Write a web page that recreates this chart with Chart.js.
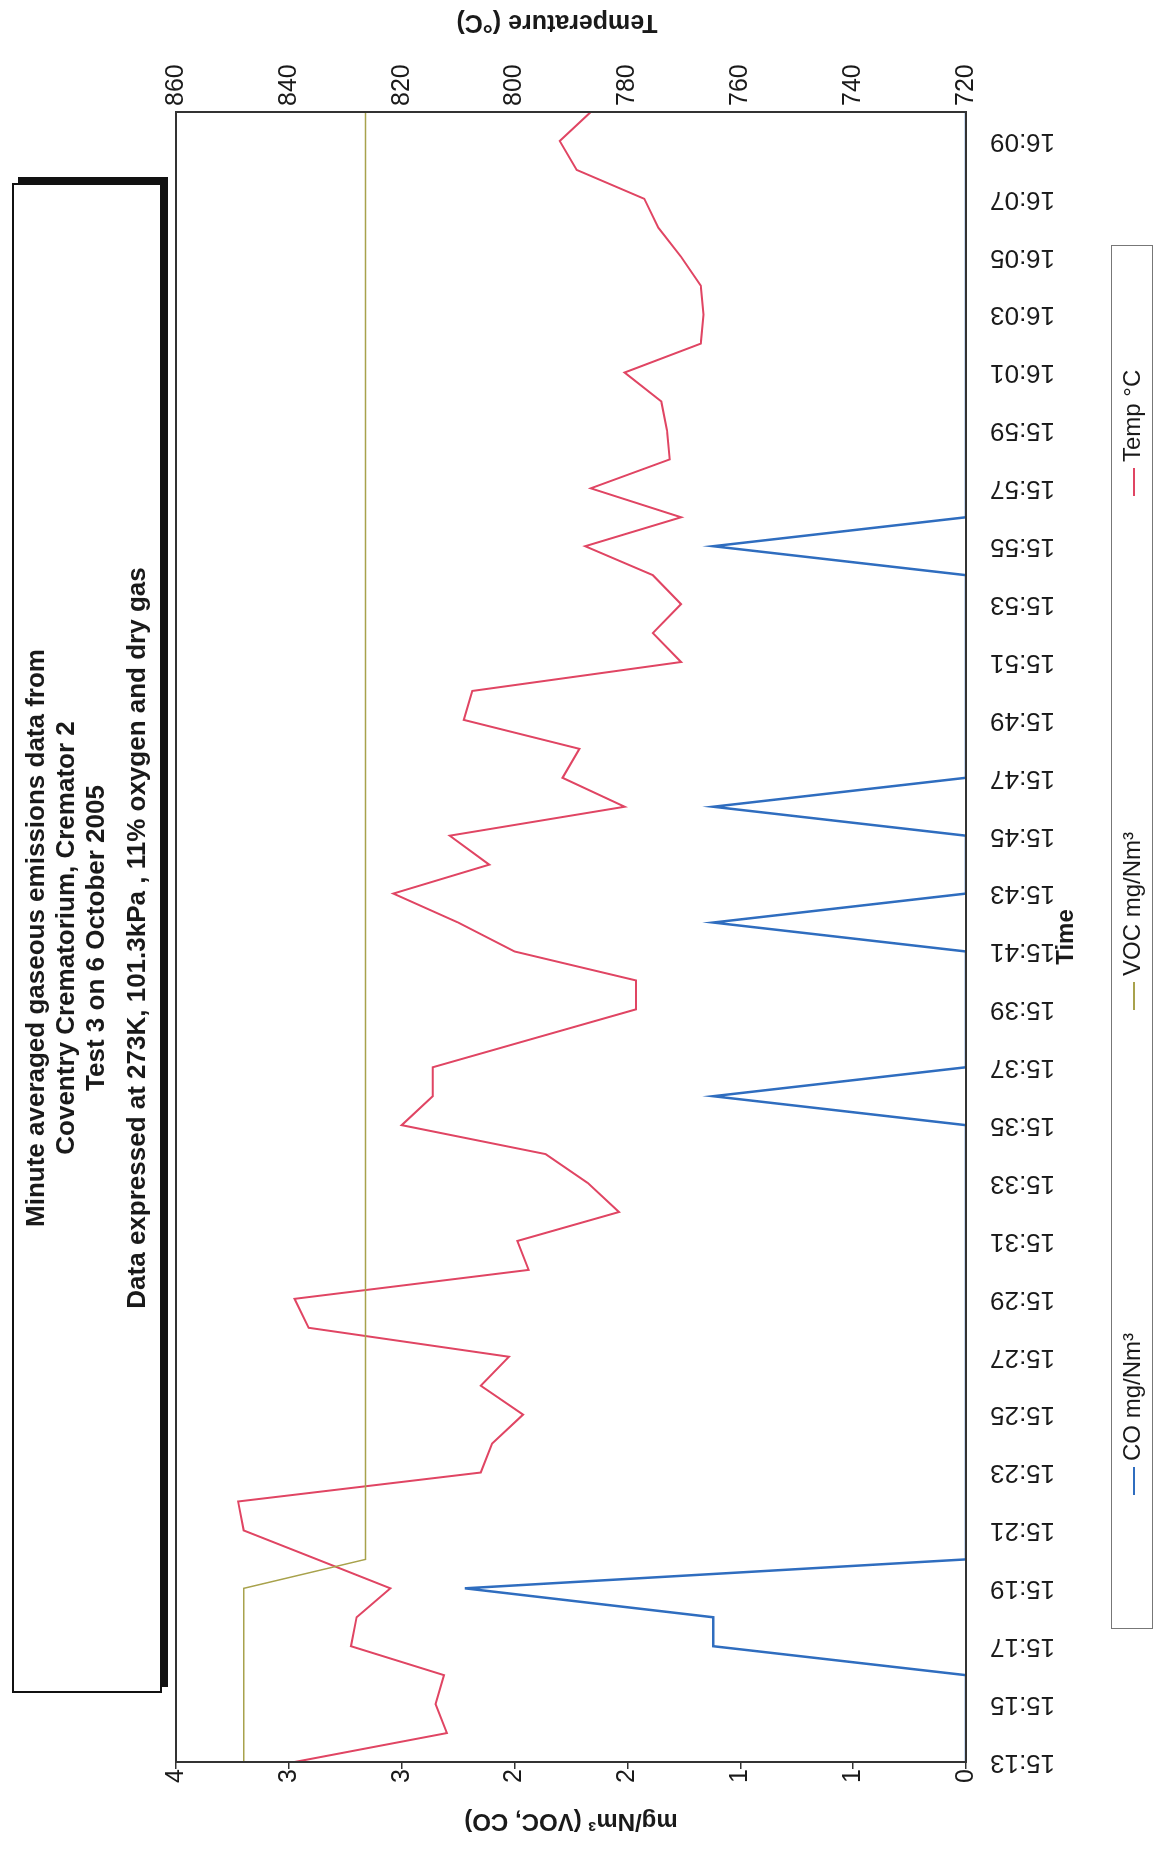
<!DOCTYPE html>
<html>
<head>
<meta charset="utf-8">
<script src="https://cdn.jsdelivr.net/npm/chart.js@4.4.1/dist/chart.umd.min.js"></script>
<style>
    html, body { margin: 0; padding: 0; background: #fff; }
    body { width: 1161px; height: 1854px; overflow: hidden; position: relative;
           font-family: 'Liberation Sans', Arial, sans-serif; color: #1a1a1a; }
    /* cela stranka je otocena o 90° proti smeru hodinovych rucicek */
    #stranka { position: absolute; left: 0; top: 0; width: 1854px; height: 1161px;
               transform-origin: 0 0; transform: translateY(1854px) rotate(-90deg); }
    #graf { position: absolute; left: 0; top: 0; }
    .titulek { position: absolute; left: 161px; top: 12px; width: 1510px; height: 150px;
               box-sizing: border-box; border: 2px solid #111; box-shadow: 6px 6px 0 #111;
               background: #fff; text-align: center; font-weight: bold; font-size: 26px;
               line-height: 30px; padding-top: 6px; }
    .titulek .posledni { margin-top: 11px; }
    .legenda { position: absolute; left: 225px; top: 1111px; width: 1384px; height: 42px;
               box-sizing: border-box; border: 1px solid #777; font-size: 24px; }
    .polozka { position: absolute; top: 0; height: 40px; line-height: 40px; white-space: nowrap; }
    .polozka i { display: inline-block; width: 28px; height: 2px; vertical-align: middle; margin-right: 6px; }
</style>
</head>
<body>
<div id="stranka">
    <canvas id="graf" width="1854" height="1161"></canvas>
    <div class="titulek">
        <div>Minute averaged gaseous emissions data from</div>
        <div>Coventry Crematorium, Cremator 2</div>
        <div>Test 3 on 6 October 2005</div>
        <div class="posledni">Data expressed at 273K, 101.3kPa , 11% oxygen and dry gas</div>
    </div>
    <div class="legenda">
        <div class="polozka" style="left:133px"><i style="background:#2f6dbf"></i>CO mg/Nm³</div>
        <div class="polozka" style="left:618px"><i style="background:#a8a24c"></i>VOC mg/Nm³</div>
        <div class="polozka" style="left:1132px"><i style="background:#e04563"></i>Temp °C</div>
    </div>
</div>
<script>
// Casove znacky (minutove prumery)
const casy = ['15:13', '15:14', '15:15', '15:16', '15:17', '15:18', '15:19', '15:20', '15:21', '15:22',
    '15:23', '15:24', '15:25', '15:26', '15:27', '15:28', '15:29', '15:30', '15:31', '15:32',
    '15:33', '15:34', '15:35', '15:36', '15:37', '15:38', '15:39', '15:40', '15:41', '15:42',
    '15:43', '15:44', '15:45', '15:46', '15:47', '15:48', '15:49', '15:50', '15:51', '15:52',
    '15:53', '15:54', '15:55', '15:56', '15:57', '15:58', '15:59', '16:00', '16:01', '16:02',
    '16:03', '16:04', '16:05', '16:06', '16:07', '16:08', '16:09', '16:10'];

// CO mg/Nm3
const co = [0, 0, 0, 0, 1.12, 1.12, 2.22, 0, 0, 0,
    0, 0, 0, 0, 0, 0, 0, 0, 0, 0,
    0, 0, 0, 1.12, 0, 0, 0, 0, 0, 1.12,
    0, 0, 0, 1.12, 0, 0, 0, 0, 0, 0,
    0, 0, 1.12, 0, 0, 0, 0, 0, 0, 0,
    0, 0, 0, 0, 0, 0, 0, 0];

// VOC mg/Nm3
const voc = [3.2, 3.2, 3.2, 3.2, 3.2, 3.2, 3.2, 2.66, 2.66, 2.66,
    2.66, 2.66, 2.66, 2.66, 2.66, 2.66, 2.66, 2.66, 2.66, 2.66,
    2.66, 2.66, 2.66, 2.66, 2.66, 2.66, 2.66, 2.66, 2.66, 2.66,
    2.66, 2.66, 2.66, 2.66, 2.66, 2.66, 2.66, 2.66, 2.66, 2.66,
    2.66, 2.66, 2.66, 2.66, 2.66, 2.66, 2.66, 2.66, 2.66, 2.66,
    2.66, 2.66, 2.66, 2.66, 2.66, 2.66, 2.66, 2.66];

// Teplota °C
const teploty = [839, 812, 814, 812.5, 829, 828, 822, 835, 848, 849,
    806, 804, 798.5, 806, 801, 836.5, 839, 797.5, 799.5, 781.5,
    787, 794.5, 820, 814.5, 814.5, 796.5, 778.5, 778.5, 800, 810,
    821.5, 804.5, 811.5, 780.5, 791.5, 788.5, 809, 807.5, 770.5, 775.5,
    770.5, 775.5, 787.5, 770.5, 786.5, 772.5, 773, 774, 780.5, 767,
    766.5, 767, 770.5, 774.5, 777, 789, 792, 786.5];

const pismo = "'Liberation Sans', Arial, sans-serif";
const barvaTextu = '#1a1a1a';

// ramecek grafu a popisek prave osy (cte se zdola nahoru jako ostatni)
const ramecek = {
    id: 'ramecek',
    afterDatasetsDraw(chart) {
        const { ctx, chartArea: a } = chart;
        ctx.save();
        ctx.strokeStyle = '#333';
        ctx.lineWidth = 2;
        ctx.strokeRect(a.left, a.top, a.right - a.left, a.bottom - a.top);
        ctx.restore();
    },
    afterDraw(chart) {
        const { ctx, chartArea: a } = chart;
        ctx.save();
        ctx.translate(chart.width - 22, (a.top + a.bottom) / 2 - 14);
        ctx.rotate(-Math.PI / 2);
        ctx.font = 'bold 25px ' + pismo;
        ctx.fillStyle = barvaTextu;
        ctx.textAlign = 'center';
        ctx.textBaseline = 'middle';
        ctx.fillText('Temperature (°C)', 0, 0);
        ctx.restore();
    }
};

document.addEventListener('DOMContentLoaded', () => {
    const ctx = document.getElementById('graf').getContext('2d');
    new Chart(ctx, {
        type: 'line',
        data: {
            labels: casy,
            datasets: [{
                label: 'CO mg/Nm³',
                data: co,
                yAxisID: 'yMg',
                borderColor: '#2f6dbf',
                borderWidth: 2.5,
                pointRadius: 0,
                tension: 0
            }, {
                label: 'VOC mg/Nm³',
                data: voc,
                yAxisID: 'yMg',
                borderColor: '#a8a24c',
                borderWidth: 1.5,
                pointRadius: 0,
                tension: 0
            }, {
                label: 'Temp °C',
                data: teploty,
                yAxisID: 'yTeplota',
                borderColor: '#e04563',
                borderWidth: 2,
                pointRadius: 0,
                tension: 0
            }]
        },
        options: {
            responsive: false,
            devicePixelRatio: 1,
            animation: false,
            events: [],
            layout: { padding: { top: 176, bottom: 75, left: 0, right: 0 } },
            plugins: { legend: { display: false }, tooltip: { enabled: false } },
            scales: {
                x: {
                    offset: false,
                    grid: { display: false, drawTicks: false },
                    border: { display: false },
                    afterFit: s => { s.height = 120; },
                    ticks: {
                        autoSkip: false,
                        minRotation: 90,
                        maxRotation: 90,
                        padding: 24,
                        color: barvaTextu,
                        font: { family: pismo, size: 26 },
                        callback: (v, i) => (i % 2 === 0 ? casy[i] : null)
                    },
                    title: {
                        display: true,
                        text: 'Time',
                        color: barvaTextu,
                        font: { family: pismo, size: 24, weight: 'bold' },
                        padding: { top: 0, bottom: 5 }
                    }
                },
                yMg: {
                    position: 'left',
                    min: 0,
                    max: 3.5,
                    afterFit: s => { s.width = 92; },
                    grid: { drawOnChartArea: false, tickLength: 7, color: '#333', lineWidth: 1.5 },
                    border: { display: false },
                    ticks: {
                        stepSize: 0.5,
                        padding: 0,
                        color: barvaTextu,
                        font: { family: pismo, size: 25 },
                        callback: v => Math.round(v)
                    },
                    title: {
                        display: true,
                        text: 'mg/Nm³ (VOC, CO)',
                        color: barvaTextu,
                        font: { family: pismo, size: 24, weight: 'bold' },
                        padding: { top: 19, bottom: 0 }
                    }
                },
                yTeplota: {
                    position: 'right',
                    min: 720,
                    max: 860,
                    afterFit: s => { s.width = 112; },
                    grid: { display: false, drawTicks: false },
                    border: { display: false },
                    ticks: {
                        stepSize: 20,
                        padding: 6,
                        color: barvaTextu,
                        font: { family: pismo, size: 25 }
                    }
                }
            }
        },
        plugins: [ramecek]
    });
});
</script>
</body>
</html>
